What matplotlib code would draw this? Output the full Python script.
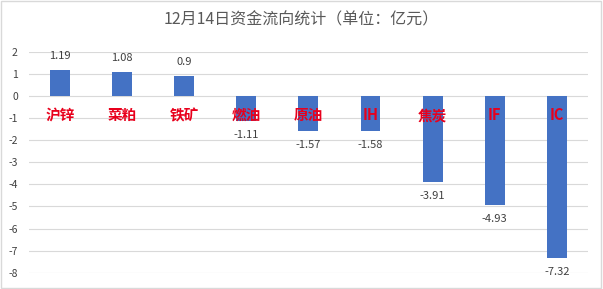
import matplotlib
matplotlib.use("Agg")
import matplotlib.pyplot as plt
from matplotlib.patches import Rectangle

plt.rcParams['font.family'] = ['Noto Sans CJK SC', 'DejaVu Sans']

categories = ["沪锌", "菜粕", "铁矿", "燃油", "原油", "IH", "焦炭", "IF", "IC"]
values = [1.19, 1.08, 0.9, -1.11, -1.57, -1.58, -3.91, -4.93, -7.32]
value_labels = ["1.19", "1.08", "0.9", "-1.11", "-1.57", "-1.58", "-3.91", "-4.93", "-7.32"]
yticks = [2, 1, 0, -1, -2, -3, -4, -5, -6, -7, -8]

fig = plt.figure(figsize=(6.03, 2.89), dpi=100)
fig.patch.set_facecolor("white")
fig.patches.append(Rectangle((0.002, 0.003), 0.995, 0.993, transform=fig.transFigure,
                             fill=False, edgecolor="#d9d9d9", linewidth=1))

ax = fig.add_axes([0.048, 0.0564, 0.927, 0.7636])
x = list(range(len(categories)))
ax.bar(x, values, width=0.32, color="#4472C4", zorder=3)
ax.set_xlim(-0.5, len(categories) - 0.5)
ax.set_ylim(-8, 2)
ax.set_yticks(yticks)
ax.set_yticklabels([str(t) for t in yticks], fontsize=7.5, color="#404040")
ax.tick_params(axis="y", length=0, pad=8)
ax.tick_params(axis="x", length=0)
ax.set_xticks([])
ax.grid(axis="y", color="#d9d9d9", linewidth=0.8, zorder=0)
for s in ax.spines.values():
    s.set_visible(False)

for xi, v, lab, cat in zip(x, values, value_labels, categories):
    dy = 14 if v >= 0 else -14
    ax.annotate(lab, (xi, v), xytext=(0, dy), textcoords="offset pixels",
                ha="center", va="center", fontsize=8, color="#404040")
    ax.annotate(cat, (xi, 0), xytext=(0, -19), textcoords="offset pixels",
                ha="center", va="center", fontsize=10.5, color="#E8001C",
                fontweight="bold", zorder=4)

fig.text(0.5, 0.93, "12月14日资金流向统计（单位：亿元）", ha="center", va="center",
         fontsize=11.5, color="#595959")

fig.savefig("out.png", dpi=100)
